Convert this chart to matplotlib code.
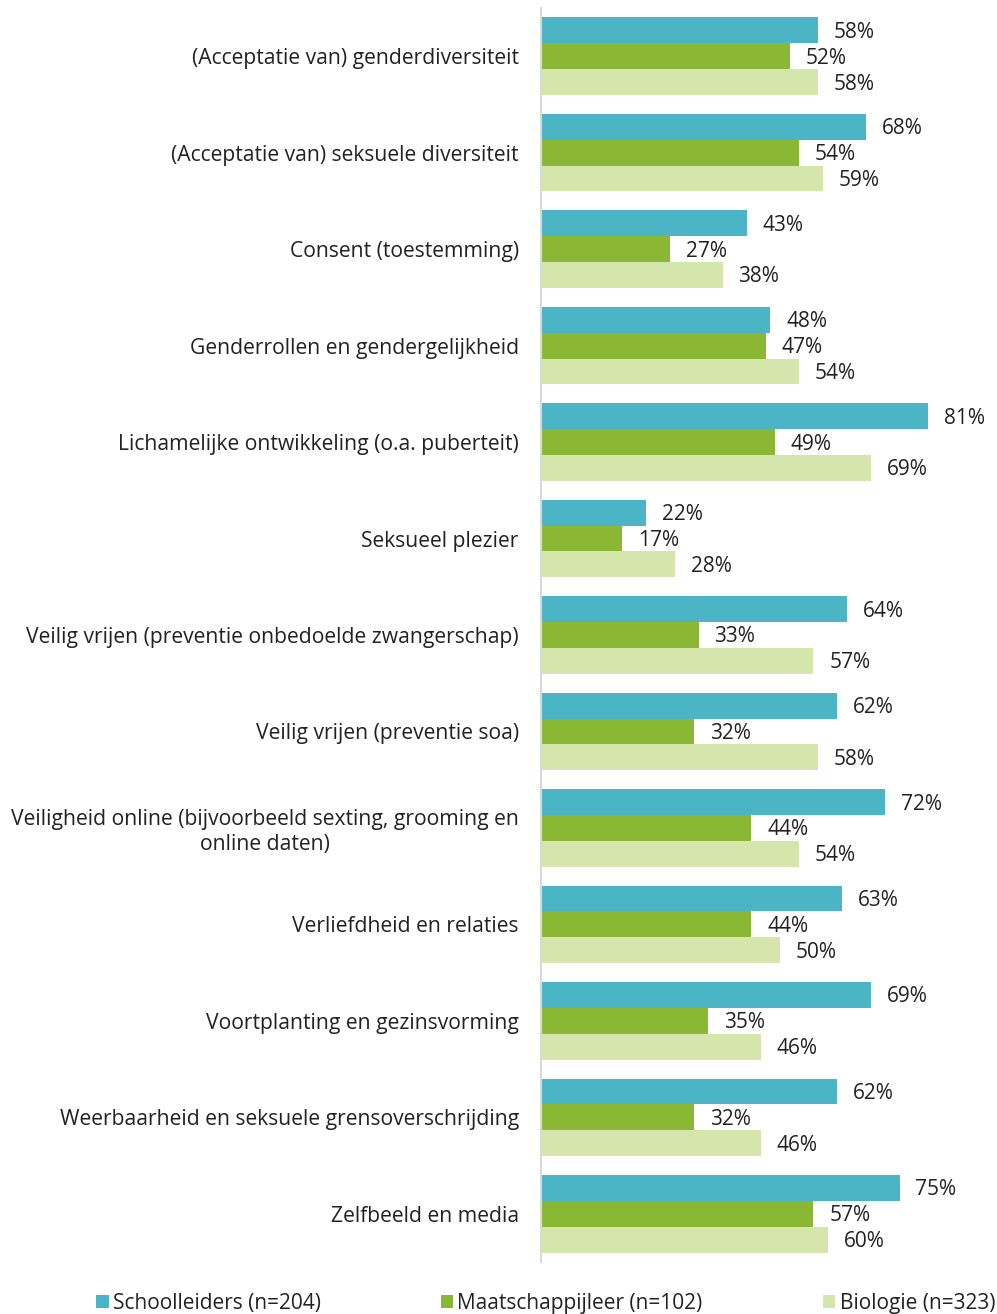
import numpy as np
import matplotlib.pyplot as plt

plt.rcParams['font.family'] = ['Open Sans', 'DejaVu Sans']

categories = [
    "(Acceptatie van) genderdiversiteit",
    "(Acceptatie van) seksuele diversiteit",
    "Consent (toestemming)",
    "Genderrollen en gendergelijkheid",
    "Lichamelijke ontwikkeling (o.a. puberteit)",
    "Seksueel plezier",
    "Veilig vrijen (preventie onbedoelde zwangerschap)",
    "Veilig vrijen (preventie soa)",
    "Veiligheid online (bijvoorbeeld sexting, grooming en\nonline daten)",
    "Verliefdheid en relaties",
    "Voortplanting en gezinsvorming",
    "Weerbaarheid en seksuele grensoverschrijding",
    "Zelfbeeld en media",
]
schoolleiders = [58, 68, 43, 48, 81, 22, 64, 62, 72, 63, 69, 62, 75]
maatschappijleer = [52, 54, 27, 47, 49, 17, 33, 32, 44, 44, 35, 32, 57]
biologie = [58, 59, 38, 54, 69, 28, 57, 58, 54, 50, 46, 46, 60]
series_names = ["Schoolleiders (n=204)", "Maatschappijleer (n=102)", "Biologie (n=323)"]
colors = ["#4BB5C5", "#8BB834", "#D4E6AC"]

fig = plt.figure(figsize=(9.97, 13.14), dpi=100)
ax = fig.add_axes([541 / 997, 1 - 1262 / 1314, 449 / 997, 1254 / 1314])

y = np.arange(len(categories))
h = 0.268
for i, (vals, c, name) in enumerate(zip([schoolleiders, maatschappijleer, biologie], colors, series_names)):
    pos = y + (i - 1) * h
    ax.barh(pos, vals, height=h, color=c, label=name)
    for p, v in zip(pos, vals):
        ax.text(v + 3.3, p + 0.02, f"{v}%", va='center', ha='left', fontsize=15, color='#222222')

ax.set_ylim(len(categories) - 0.5, -0.5)
ax.set_xlim(0, 449 / 4.78)
ax.set_yticks(y)
ax.set_yticklabels(categories, fontsize=15.2, multialignment='center', color='#222222')
ax.tick_params(axis='y', length=0, pad=16)
ax.set_xticks([])
for s in ['top', 'right', 'bottom']:
    ax.spines[s].set_visible(False)
ax.spines['left'].set_color('#D9D9D9')
ax.spines['left'].set_linewidth(1.5)

fig.legend(loc='lower left', bbox_to_anchor=(96 / 997, 0.0, 899 / 997, 0.02), mode='expand',
           ncol=3, frameon=False, fontsize=15, handlelength=0.6, handleheight=0.6,
           handletextpad=0.2, borderaxespad=0, borderpad=0, labelcolor='#222222')

fig.savefig("out.png", dpi=100)
